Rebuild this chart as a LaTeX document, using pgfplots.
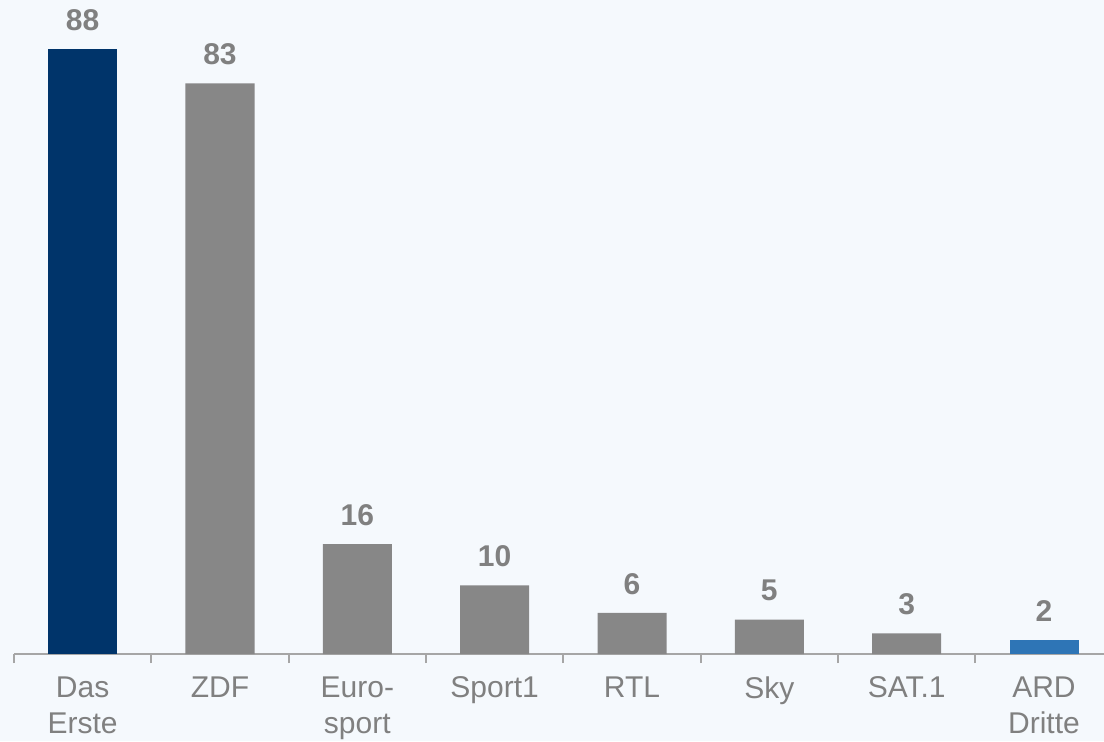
\documentclass[border=0pt]{standalone}
\usepackage{fontspec}
\setmainfont{Liberation Sans}
\usepackage{pgfplots}
\pgfplotsset{compat=1.18}

\definecolor{bgc}{HTML}{F5F9FD}
\definecolor{navy}{HTML}{00346A}
\definecolor{barg}{HTML}{878787}
\definecolor{lblue}{HTML}{2E75B6}
\definecolor{txtg}{HTML}{808080}
\definecolor{axg}{HTML}{A6A6A6}

\begin{document}
\begin{tikzpicture}
\fill[bgc] (0,0) rectangle (552pt,370.5pt);
\begin{axis}[
  at={(7pt,43.5pt)}, anchor=south west,
  scale only axis, width=545pt, height=302.5pt,
  xmin=-0.5, xmax=7.437, ymin=0, ymax=88,
  clip=false,
  axis y line=none, axis x line*=bottom,
  x axis line style={axg, line width=0.9pt, -},
  ybar, bar width=34.5pt, bar shift=0pt,
  xtick={0,...,7},
  xticklabels={Das\\Erste, ZDF, Euro-\\sport, Sport1, RTL, Sky, SAT.1, ARD\\Dritte},
  major tick length=0pt,
  minor xtick={-0.5,0.5,...,6.5},
  minor tick length=4.5pt,
  xtick align=outside,
  minor tick style={axg, line width=0.9pt},
  x tick label style={font=\fontsize{15}{18.25}\selectfont, text=txtg, align=center, anchor=north, inner sep=0pt, yshift=-11pt},
  /pgf/number format/assume math mode=true,
  nodes near coords,
  nodes near coords style={font=\fontsize{15}{18}\selectfont\bfseries, text=txtg, inner sep=0pt, anchor=south, yshift=9pt},
]
\addplot[fill=navy, draw=none] coordinates {(0,88)};
\addplot[fill=barg, draw=none] coordinates {(1,83) (2,16) (3,10) (4,6) (5,5) (6,3)};
\addplot[fill=lblue, draw=none] coordinates {(7,2)};
\end{axis}
\pgfresetboundingbox
\path[use as bounding box] (0,0) rectangle (552pt,370.5pt);
\end{tikzpicture}
\end{document}
